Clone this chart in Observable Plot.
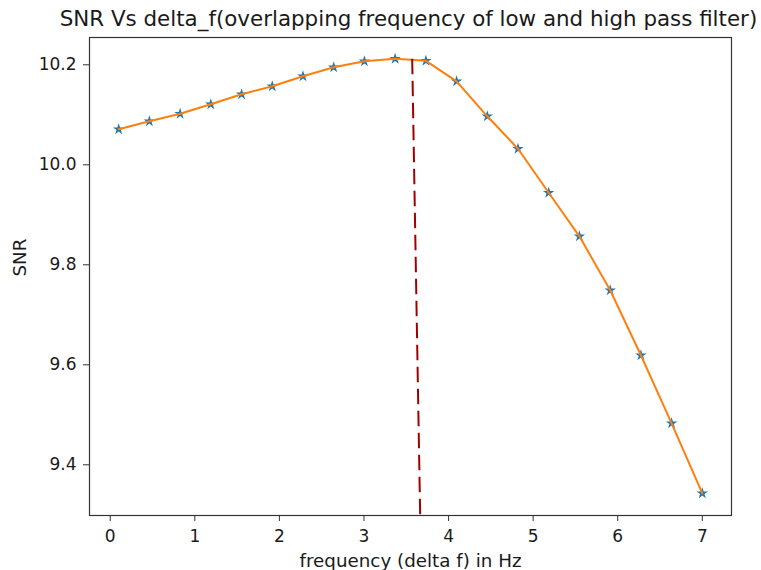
<!DOCTYPE html>
<html><head><meta charset="utf-8">
<script src="https://cdn.jsdelivr.net/npm/d3@7"></script>
<script src="https://cdn.jsdelivr.net/npm/@observablehq/plot@0.6"></script>
<style>
body{margin:0;background:#fff;font-family:"DejaVu Sans",sans-serif;}
#title{box-sizing:border-box;width:761px;height:30px;padding-top:8px;padding-left:56px;text-align:center;font-size:21.4px;line-height:21.4px;color:#1a1a1a;white-space:nowrap;overflow:visible;}
</style></head><body>
<div id="title">SNR Vs delta_f(overlapping frequency of low and high pass filter)</div>
<div id="chart"></div>
<script>
const freq = [0.1, 0.463, 0.826, 1.189, 1.553, 1.916, 2.279, 2.642, 3.005, 3.368, 3.732, 4.095, 4.458, 4.821, 5.184, 5.547, 5.911, 6.274, 6.637, 7.0];
const snr = [10.071, 10.087, 10.102, 10.121, 10.141, 10.157, 10.177, 10.195, 10.207, 10.212, 10.208, 10.167, 10.097, 10.032, 9.944, 9.857, 9.749, 9.619, 9.483, 9.343];
const xTicks = [0, 1, 2, 3, 4, 5, 6, 7];
const yTicks = [9.4, 9.6, 9.8, 10.0, 10.2];
const peakLineX = [3.57, 3.665];
const peakLineY = [10.212, 9.292];
const xLabel = "frequency (delta f) in Hz";
const yLabel = "SNR";

const points = freq.map((f, i) => ({f, s: snr[i]}));
const peak = [{x1: peakLineX[0], y1: peakLineY[0], x2: peakLineX[1], y2: peakLineY[1]}];

const chart = Plot.plot({
  width: 761, height: 540,
  marginTop: 7, marginBottom: 55, marginLeft: 89, marginRight: 30,
  style: {fontFamily: "DejaVu Sans", fontSize: "17px", color: "#1a1a1a", background: "#fff"},
  x: {domain: [-0.245, 7.345]},
  y: {domain: [9.2986, 10.2546]},
  marks: [
    Plot.frame({stroke: "#333", strokeWidth: 1.2}),
    Plot.axisX({ticks: xTicks, tickSize: 6, tickPadding: 8, label: null, tickFormat: d3.format("d"), stroke: "#333", fontSize: 17}),
    Plot.axisY({ticks: yTicks, tickSize: 6, tickPadding: 7, label: null, tickFormat: d3.format(".1f"), stroke: "#333", fontSize: 17}),
    Plot.dot(points, {x: "f", y: "s", symbol: "star", r: 3.6, fill: "#1f77b4", stroke: "none"}),
    Plot.line(points, {x: "f", y: "s", stroke: "#ff7f0e", strokeWidth: 2}),
    Plot.link(peak, {x1: "x1", y1: "y1", x2: "x2", y2: "y2", stroke: "#a00000", strokeWidth: 2, strokeDasharray: "15.5,6.5"}),
    Plot.text([xLabel], {frameAnchor: "bottom", dy: 51, text: d => d, fontSize: 18.3}),
    Plot.text([yLabel], {frameAnchor: "left", dx: -69, rotate: -90, text: d => d, fontSize: 18.3})
  ]
});
document.getElementById("chart").appendChild(chart);
</script>
</body></html>
